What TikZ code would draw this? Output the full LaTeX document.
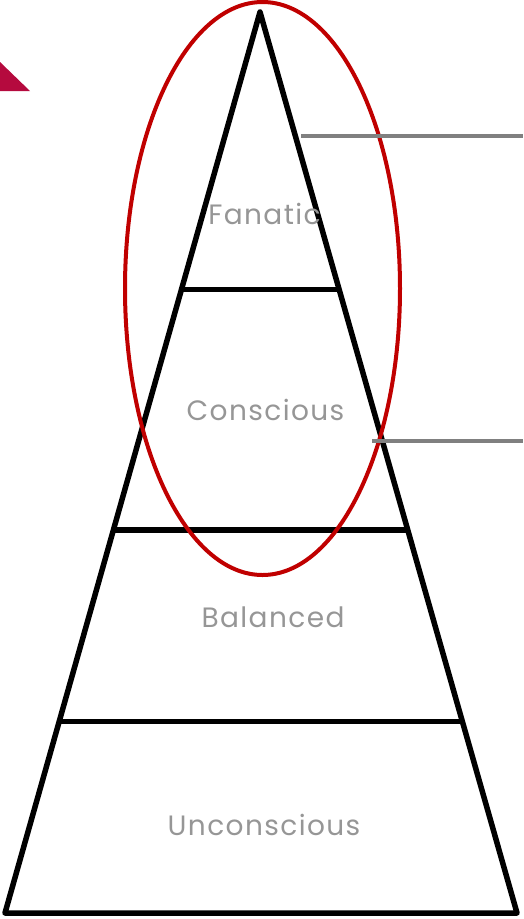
\documentclass[tikz,border=0pt]{standalone}
\usepackage{fontspec}
\setmainfont{Poppins}[LetterSpace=5]
\usetikzlibrary{calc}
\definecolor{levelgray}{RGB}{150,150,150}
\definecolor{ringred}{RGB}{192,0,0}
\definecolor{markred}{RGB}{181,10,62}
\definecolor{guidegray}{RGB}{128,128,128}
\tikzset{
  level/.style={text=levelgray,font=\fontsize{28}{30}\selectfont,inner sep=0pt},
  edge/.style={line width=5.5pt,line join=round}
}
\begin{document}
\begin{tikzpicture}[x=1pt,y=-1pt]
\useasboundingbox (0,0) rectangle (523,919);
\coordinate (apex) at (260,12);
\coordinate (bl) at (5,913);
\coordinate (br) at (517,913);
\fill[markred] (0,62)--(30,91)--(0,91)--cycle;
\draw[edge] (apex)--(bl)--(br)--cycle;
\foreach \f in {0.3079,0.5748,0.7874}
  {\draw[edge] ($(apex)!\f!(bl)$)--($(apex)!\f!(br)$);}
\draw[ringred,line width=4pt] (262.5,288.5) ellipse[x radius=137.5,y radius=286.5];
\coordinate (g1) at (523,136);
\coordinate (g2) at (523,441);
\draw[guidegray,line width=4pt] (301,136)--(g1);
\draw[guidegray,line width=4pt] (372,441)--(g2);
\node[level] (fanatic) at (264.5,214) {Fanatic};
\node[level] (conscious) at (265.5,410) {Conscious};
\node[level] (balanced) at (273,617) {Balanced};
\node[level] (unconscious) at (264,825) {Unconscious};
\end{tikzpicture}
\end{document}
